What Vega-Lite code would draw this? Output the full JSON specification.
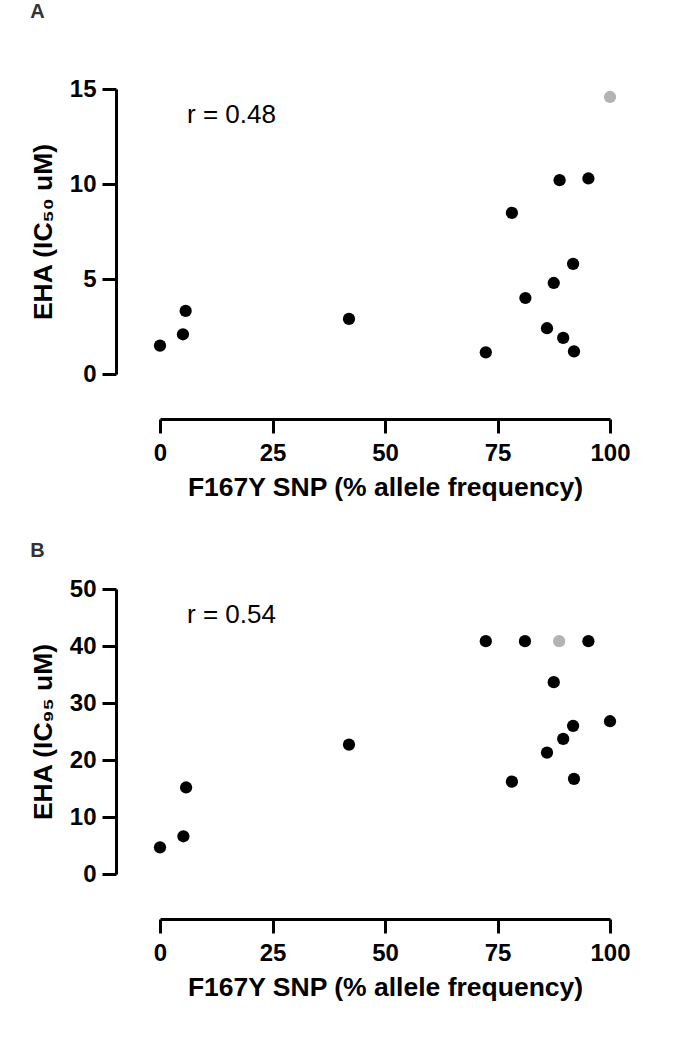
{
  "$schema": "https://vega.github.io/schema/vega-lite/v6.json",
  "padding": {"left": 30, "top": 2, "right": 5, "bottom": 5},
  "background": "white",
  "spacing": 40,
  "config": {
    "font": "Liberation Sans",
    "view": {"stroke": null},
    "axis": {
      "grid": false,
      "labelFlush": false,
      "domainColor": "black",
      "domainWidth": 3,
      "tickColor": "black",
      "tickWidth": 3,
      "tickSize": 14,
      "labelFont": "Liberation Sans",
      "labelFontSize": 24,
      "labelFontWeight": "bold",
      "labelColor": "black",
      "labelPadding": 6,
      "titleFont": "Liberation Sans",
      "titleFontSize": 26.5,
      "titleFontWeight": "bold",
      "titleColor": "black"
    }
  },
  "datasets": {
    "ic50": [
      {"snp": 0, "ic": 1.49, "highlight": "no"},
      {"snp": 5.1, "ic": 2.09, "highlight": "no"},
      {"snp": 5.7, "ic": 3.32, "highlight": "no"},
      {"snp": 42, "ic": 2.9, "highlight": "no"},
      {"snp": 72.4, "ic": 1.14, "highlight": "no"},
      {"snp": 78.2, "ic": 8.48, "highlight": "no"},
      {"snp": 81.2, "ic": 4.0, "highlight": "no"},
      {"snp": 86.0, "ic": 2.41, "highlight": "no"},
      {"snp": 87.5, "ic": 4.79, "highlight": "no"},
      {"snp": 88.8, "ic": 10.2, "highlight": "no"},
      {"snp": 89.6, "ic": 1.9, "highlight": "no"},
      {"snp": 91.8, "ic": 5.8, "highlight": "no"},
      {"snp": 92.0, "ic": 1.19, "highlight": "no"},
      {"snp": 95.2, "ic": 10.29, "highlight": "no"},
      {"snp": 100, "ic": 14.58, "highlight": "yes"}
    ],
    "ic95": [
      {"snp": 0, "ic": 4.68, "highlight": "no"},
      {"snp": 5.2, "ic": 6.62, "highlight": "no"},
      {"snp": 5.8, "ic": 15.18, "highlight": "no"},
      {"snp": 42, "ic": 22.7, "highlight": "no"},
      {"snp": 72.4, "ic": 40.85, "highlight": "no"},
      {"snp": 78.2, "ic": 16.2, "highlight": "no"},
      {"snp": 81.1, "ic": 40.85, "highlight": "no"},
      {"snp": 86.0, "ic": 21.3, "highlight": "no"},
      {"snp": 87.5, "ic": 33.65, "highlight": "no"},
      {"snp": 88.7, "ic": 40.85, "highlight": "yes"},
      {"snp": 89.6, "ic": 23.7, "highlight": "no"},
      {"snp": 91.8, "ic": 26.0, "highlight": "no"},
      {"snp": 92.0, "ic": 16.7, "highlight": "no"},
      {"snp": 95.2, "ic": 40.85, "highlight": "no"},
      {"snp": 100, "ic": 26.8, "highlight": "no"}
    ]
  },
  "vconcat": [
    {
      "width": 450,
      "height": 285,
      "title": {"text": "A", "anchor": "start", "frame": "bounds", "fontSize": 20, "fontWeight": "bold", "color": "#333333", "font": "Liberation Sans", "offset": 55},
      "layer": [
        {
          "data": {"name": "ic50"},
          "mark": {"type": "point", "filled": true, "size": 150, "opacity": 1},
          "encoding": {
            "x": {"field": "snp", "type": "quantitative", "scale": {"domain": [0, 100], "nice": false},
                  "axis": {"values": [0, 25, 50, 75, 100], "offset": 45, "title": "F167Y SNP (% allele frequency)", "labelPadding": 8, "titlePadding": 9}},
            "y": {"field": "ic", "type": "quantitative", "scale": {"domain": [0, 15], "nice": false},
                  "axis": {"values": [0, 5, 10, 15], "offset": 44, "title": "EHA (IC₅₀ uM)", "titlePadding": 12}},
            "color": {"field": "highlight", "type": "nominal", "scale": {"domain": ["no", "yes"], "range": ["#000000", "#b3b3b3"]}, "legend": null}
          }
        },
        {
          "data": {"values": [{"snp": 6, "ic": 13.65, "label": "r = 0.48"}]},
          "mark": {"type": "text", "align": "left", "baseline": "middle", "fontSize": 26, "font": "Liberation Sans", "color": "black"},
          "encoding": {
            "x": {"field": "snp", "type": "quantitative"},
            "y": {"field": "ic", "type": "quantitative"},
            "text": {"field": "label"}
          }
        }
      ]
    },
    {
      "width": 450,
      "height": 285,
      "title": {"text": "B", "anchor": "start", "frame": "bounds", "fontSize": 20, "fontWeight": "bold", "color": "#333333", "font": "Liberation Sans", "offset": 16},
      "layer": [
        {
          "data": {"name": "ic95"},
          "mark": {"type": "point", "filled": true, "size": 150, "opacity": 1},
          "encoding": {
            "x": {"field": "snp", "type": "quantitative", "scale": {"domain": [0, 100], "nice": false},
                  "axis": {"values": [0, 25, 50, 75, 100], "offset": 45, "title": "F167Y SNP (% allele frequency)", "labelPadding": 8, "titlePadding": 9}},
            "y": {"field": "ic", "type": "quantitative", "scale": {"domain": [0, 50], "nice": false},
                  "axis": {"values": [0, 10, 20, 30, 40, 50], "offset": 44, "title": "EHA (IC₉₅ uM)", "titlePadding": 12}},
            "color": {"field": "highlight", "type": "nominal", "scale": {"domain": ["no", "yes"], "range": ["#000000", "#b3b3b3"]}, "legend": null}
          }
        },
        {
          "data": {"values": [{"snp": 6, "ic": 45.5, "label": "r = 0.54"}]},
          "mark": {"type": "text", "align": "left", "baseline": "middle", "fontSize": 26, "font": "Liberation Sans", "color": "black"},
          "encoding": {
            "x": {"field": "snp", "type": "quantitative"},
            "y": {"field": "ic", "type": "quantitative"},
            "text": {"field": "label"}
          }
        }
      ]
    }
  ]
}
